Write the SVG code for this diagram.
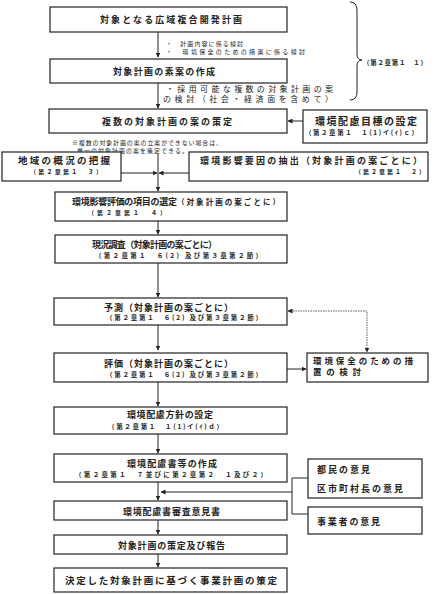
<svg xmlns="http://www.w3.org/2000/svg" width="434" height="594" viewBox="0 0 434 594">
<defs>
<marker id="ah" viewBox="0 0 10 10" refX="9" refY="5" markerWidth="5" markerHeight="5" orient="auto-start-reverse" markerUnits="userSpaceOnUse">
<path d="M0,0 L10,5 L0,10 z" fill="#222"/>
</marker>
<style>
.box{fill:#fff;stroke:#222;stroke-width:1.2}
.ln{fill:none;stroke:#222;stroke-width:1}
.arr{fill:none;stroke:#222;stroke-width:1;marker-end:url(#ah)}
.dot{fill:none;stroke:#333;stroke-width:0.8;stroke-dasharray:1.5 1}
text{font-family:"Noto Sans CJK JP","Noto Sans",sans-serif;fill:#222;dominant-baseline:central}
.m{font-size:9px;font-weight:700}
.s{font-size:6.5px;font-weight:700}
.n{font-size:6px}
.t{font-size:8px}
</style>
</defs>
<rect width="434" height="594" fill="#fff"/>

<g id="connectors">
<path class="arr" d="M158,32 V57"/>
<path class="arr" d="M158,83 V108"/>
<path class="arr" d="M303,121 H288"/>
<path class="arr" d="M158,154 V191"/>
<path class="arr" d="M121,173 H157"/>
<path class="arr" d="M189,173 H159"/>
<path class="arr" d="M158,221 V234"/>
<path class="arr" d="M158,263 V297"/>
<path class="arr" d="M158,325 V350"/>
<path class="dot" d="M288,311 H367 V352" marker-start="url(#ah)" marker-end="url(#ah)"/>
<path class="arr" d="M287,369 H306"/>
<path class="arr" d="M158,382 V406"/>
<path class="arr" d="M158,434 V453"/>
<path class="arr" d="M158,482 V500"/>
<path class="ln" d="M308,478 H292 V514 H308"/>
<path class="arr" d="M292,492 H161"/>
<path class="arr" d="M158,520 V534"/>
<path class="arr" d="M158,554 V567"/>
<path class="ln" d="M350,2 Q357,2 357,10 V54 Q357,60 362,60 Q357,60 357,66 V92 Q357,100 350,100"/>
</g>

<g id="brace-label">
<text class="s" x="363" y="62" textLength="64" lengthAdjust="spacing">（第２章第１　１）</text>
</g>

<g id="n1">
<rect class="box" x="50" y="7" width="237" height="25"/>
<text class="m" x="100" y="19.5" textLength="142" lengthAdjust="spacing">対象となる広域複合開発計画</text>
</g>

<g id="note1">
<text class="n" x="166" y="43" textLength="77" lengthAdjust="spacing">・　計画内容に係る検討</text>
<text class="n" x="166" y="51" textLength="139" lengthAdjust="spacing">・　環境保全のための措置に係る検討</text>
</g>

<g id="n2">
<rect class="box" x="50" y="59" width="237" height="24"/>
<text class="m" x="113" y="71" textLength="102" lengthAdjust="spacing">対象計画の素案の作成</text>
</g>

<g id="note2">
<text class="t" x="166" y="88" textLength="167" lengthAdjust="spacing">・採用可能な複数の対象計画の案</text>
<text class="t" x="163" y="98" textLength="170" lengthAdjust="spacing">の検討（社会・経済面を含めて）</text>
</g>

<g id="n3">
<rect class="box" x="49" y="109" width="238" height="24"/>
<text class="m" x="102" y="121" textLength="130" lengthAdjust="spacing">複数の対象計画の案の策定</text>
</g>

<g id="r1">
<rect class="box" x="303" y="110" width="124" height="33"/>
<text class="m" x="315" y="120" textLength="102" lengthAdjust="spacing" style="font-size:10px">環境配慮目標の設定</text>
<text class="s" x="305" y="132" textLength="113" lengthAdjust="spacing">（第２章第１　１(1)イ(ｲ)ｃ）</text>
</g>

<g id="note3">
<text class="n" x="72" y="142" textLength="150" lengthAdjust="spacing">※複数の対象計画の案の立案ができない場合は、</text>
<text class="n" x="77" y="150" textLength="111" lengthAdjust="spacing">単一の対象計画の案を策定できる。</text>
</g>

<g id="l1">
<rect class="box" x="2" y="152" width="119" height="29"/>
<text class="m" x="18" y="160" textLength="92" lengthAdjust="spacing" style="font-size:9.5px">地域の概況の把握</text>
<text class="s" x="30" y="171" textLength="72" lengthAdjust="spacing" style="font-size:6px">（第２章第１　３）</text>
</g>

<g id="r2">
<rect class="box" x="189" y="152" width="239" height="29"/>
<text class="m" x="200" y="160" textLength="222" lengthAdjust="spacing">環境影響要因の抽出（対象計画の案ごとに）</text>
<text class="s" x="355" y="171" textLength="70" lengthAdjust="spacing" style="font-size:6px">（第２章第１　２）</text>
</g>

<g id="n4">
<rect class="box" x="55" y="192" width="232" height="29"/>
<text class="m" x="72" y="201" textLength="105" lengthAdjust="spacing">環境影響評価の項目の選定</text>
<text class="m" x="177" y="201" textLength="103" lengthAdjust="spacing" style="font-size:7.5px">（対象計画の案ごとに）</text>
<text class="s" x="88" y="212" textLength="78" lengthAdjust="spacing" style="font-size:6px">（第２章第１　４）</text>
</g>

<g id="n5">
<rect class="box" x="55" y="235" width="232" height="28"/>
<text class="m" x="92" y="244" textLength="125" lengthAdjust="spacing">現況調査（対象計画の案ごとに）</text>
<text class="s" x="95" y="255" textLength="167" lengthAdjust="spacing">（第２章第１　６(2) 及び第３章第２節）</text>
</g>

<g id="n6">
<rect class="box" x="54" y="298" width="233" height="27"/>
<text class="m" x="104" y="307" textLength="129" lengthAdjust="spacing">予測（対象計画の案ごとに）</text>
<text class="s" x="106" y="317" textLength="156" lengthAdjust="spacing">（第２章第１　６(2) 及び第３章第２節）</text>
</g>

<g id="n7">
<rect class="box" x="54" y="353" width="233" height="29"/>
<text class="m" x="104" y="363" textLength="129" lengthAdjust="spacing">評価（対象計画の案ごとに）</text>
<text class="s" x="106" y="374" textLength="156" lengthAdjust="spacing">（第２章第１　６(2) 及び第３章第２節）</text>
</g>

<g id="r3">
<rect class="box" x="307" y="353" width="121" height="29"/>
<text class="m" x="313" y="360" textLength="100" lengthAdjust="spacing" style="font-size:8.5px">環境保全のための措</text>
<text class="m" x="313" y="371" textLength="48" lengthAdjust="spacing" style="font-size:8.5px">置の検討</text>
</g>

<g id="n8">
<rect class="box" x="54" y="407" width="233" height="27"/>
<text class="m" x="127" y="414" textLength="86" lengthAdjust="spacing">環境配慮方針の設定</text>
<text class="s" x="108" y="426" textLength="115" lengthAdjust="spacing">（第２章第１　１(1)イ(ｲ)ｄ）</text>
</g>

<g id="n9">
<rect class="box" x="54" y="454" width="233" height="28"/>
<text class="m" x="127" y="463" textLength="90" lengthAdjust="spacing">環境配慮書等の作成</text>
<text class="s" x="75" y="474" textLength="192" lengthAdjust="spacing">（第２章第１　７並びに第２章第２　１及び２）</text>
</g>

<g id="r4">
<rect class="box" x="308" y="459" width="114" height="39"/>
<text class="m" x="317" y="469" textLength="53" lengthAdjust="spacing">都民の意見</text>
<text class="m" x="317" y="488" textLength="86" lengthAdjust="spacing">区市町村長の意見</text>
</g>

<g id="r5">
<rect class="box" x="308" y="507" width="114" height="27"/>
<text class="m" x="317" y="521" textLength="63" lengthAdjust="spacing">事業者の意見</text>
</g>

<g id="n10">
<rect class="box" x="54" y="501" width="233" height="19"/>
<text class="m" x="123" y="511" textLength="97" lengthAdjust="spacing">環境配慮書審査意見書</text>
</g>

<g id="n11">
<rect class="box" x="54" y="535" width="233" height="19"/>
<text class="m" x="118" y="545" textLength="107" lengthAdjust="spacing">対象計画の策定及び報告</text>
</g>

<g id="n12">
<rect class="box" x="54" y="568" width="233" height="24"/>
<text class="m" x="65" y="580" textLength="212" lengthAdjust="spacing" style="font-size:9.5px">決定した対象計画に基づく事業計画の策定</text>
</g>
</svg>
